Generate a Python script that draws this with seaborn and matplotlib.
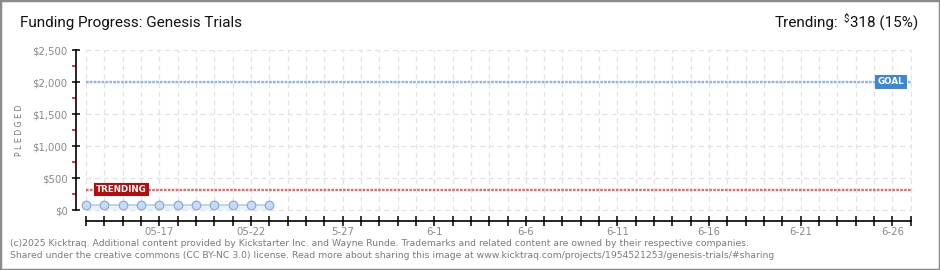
import matplotlib
matplotlib.use("Agg")
import matplotlib.pyplot as plt
import matplotlib.dates as mdates
from matplotlib.patches import Rectangle
import seaborn as sns
import pandas as pd
import numpy as np

# ---- data ----
pledge_dates = pd.date_range("2025-05-13", "2025-05-23", freq="D")
pledged = [78, 78, 78, 78, 78, 78, 78, 78, 78, 78, 78]
goal_value = 2000
trend_value = 318
trend_pct = 15
campaign_start = "2025-05-13"
campaign_end = "2025-06-27"
xtick_dates = ["2025-05-17", "2025-05-22", "2025-05-27", "2025-06-01", "2025-06-06",
               "2025-06-11", "2025-06-16", "2025-06-21", "2025-06-26"]
xtick_labels = ["05-17", "05-22", "5-27", "6-1", "6-6", "6-11", "6-16", "6-21", "6-26"]
ytick_values = [0, 500, 1000, 1500, 2000, 2500]
ytick_labels = ["$0", "$500", "$1,000", "$1,500", "$2,000", "$2,500"]
title = "Funding Progress: Genesis Trials"
footer1 = ("(c)2025 Kicktraq. Additional content provided by Kickstarter Inc. and Wayne Runde. "
           "Trademarks and related content are owned by their respective companies.")
footer2 = ("Shared under the creative commons (CC BY-NC 3.0) license. Read more about sharing this "
           "image at www.kicktraq.com/projects/1954521253/genesis-trials/#sharing")

df = pd.DataFrame({"date": pledge_dates, "pledged": pledged})

sns.set_style("white")
plt.rcParams["font.family"] = ["DejaVu Sans"]

W, H = 940, 270
fig = plt.figure(figsize=(W / 100, H / 100), dpi=100)

def fx(px):
    return px / W

def fy(py):
    return (H - py) / H

# axes placement
ax_left, ax_right, ax_top, ax_bottom = 76, 912, 50, 221
ax = fig.add_axes([fx(ax_left), fy(ax_bottom), fx(ax_right - ax_left), fy(ax_top) - fy(ax_bottom)])

start = pd.Timestamp(campaign_start)
end = pd.Timestamp(campaign_end)
px_per_day = (910.7 - 86) / 45.0
xl = start - pd.Timedelta(days=10 / px_per_day)
xr = end + pd.Timedelta(days=(ax_right - 910.7) / px_per_day)
ax.set_xlim(mdates.date2num(xl), mdates.date2num(xr))
px_per_dollar = 32 / 500
ax.set_ylim(-(ax_bottom - 210) / px_per_dollar, 2500)

# grid (dashed, light)
days = pd.date_range(start, end, freq="D")
for d in days:
    ax.plot([d, d], [0, 2500], color="#e2e2e2", lw=0.9, ls=(0, (4, 3)), zorder=1)
for v in ytick_values:
    ax.plot([start, end], [v, v], color="#e2e2e2", lw=0.9, ls=(0, (4, 3)), zorder=1)

# goal / trend lines
ax.plot([start, end], [goal_value, goal_value], color="#8fb4e0", lw=1.7, ls=(0, (1.1, 0.55)), zorder=3)
ax.plot([start, end], [trend_value, trend_value], color="#e06a6a", lw=1.7, ls=(0, (1.1, 0.55)), zorder=3)

# pledged series
ax.fill_between(df["date"], 0, df["pledged"], color="#e9f1fb", zorder=2, lw=0)
sns.lineplot(data=df, x="date", y="pledged", ax=ax, color="#b9d0ee", lw=1.2, zorder=4)
sns.scatterplot(data=df, x="date", y="pledged", ax=ax, s=38, color="#c4dcf7",
                edgecolor="#90acd4", linewidth=0.9, zorder=5)

# labels on lines
ax.text(start + pd.Timedelta(days=0.55), trend_value, "TRENDING", color="white", fontsize=6.3,
        fontweight="bold", va="center", ha="left", zorder=6,
        bbox=dict(boxstyle="square,pad=0.25", fc="#b50c0c", ec="none"))
ax.text(end - pd.Timedelta(days=0.35), goal_value, "GOAL", color="white", fontsize=6.3,
        fontweight="bold", va="center", ha="right", zorder=6,
        bbox=dict(boxstyle="square,pad=0.3", fc="#3d87d6", ec="none"))

# spines
for s in ["top", "right"]:
    ax.spines[s].set_visible(False)
ax.spines["left"].set_bounds(0, 2500)
ax.spines["bottom"].set_bounds(mdates.date2num(start), mdates.date2num(end))
ax.spines["left"].set_color("black")
ax.spines["bottom"].set_color("black")
ax.spines["left"].set_linewidth(1.2)
ax.spines["bottom"].set_linewidth(1.2)

ax.set_yticks(ytick_values)
ax.set_yticklabels(ytick_labels)
ax.set_yticks([250, 750, 1250, 1750, 2250], minor=True)
ax.tick_params(axis="y", which="both", left=True)
ax.tick_params(axis="y", which="major", direction="inout", length=6, width=1.1, color="black",
               labelsize=7.3, labelcolor="#8a8a8a", pad=3)
ax.tick_params(axis="y", which="minor", direction="out", length=3, width=1.1, color="#e00000")

ax.set_xticks([mdates.date2num(d) for d in days], minor=True)
ax.set_xticks([mdates.date2num(pd.Timestamp(d)) for d in xtick_dates])
ax.set_xticklabels(xtick_labels)
ax.tick_params(axis="x", which="both", bottom=True, direction="inout", length=7, width=1.1,
               color="black")
ax.tick_params(axis="x", which="major", labelsize=7.3, labelcolor="#8a8a8a", pad=1)
ax.set_xlabel("")
ax.set_ylabel("")

# texts
fig.text(fx(20), fy(23), title, fontsize=11, color="#111111", va="center", ha="left",
         family="Roboto")
fig.canvas.draw()
r = fig.canvas.get_renderer()
t_main = fig.text(fx(918), fy(23), "318 (15%)", fontsize=11, color="#111111", va="center",
                  ha="right", family="Roboto")
bb = t_main.get_window_extent(r)
t_dollar = fig.text(bb.x0 / W - fx(1), fy(19), "$", fontsize=7, color="#111111", va="center",
                    ha="right", family="Roboto")
bb2 = t_dollar.get_window_extent(r)
fig.text(bb2.x0 / W - fx(5), fy(23), "Trending:", fontsize=11, color="#111111", va="center",
         ha="right", family="Roboto")

fig.text(fx(20), fy(130), "P L E D G E D", rotation=90, fontsize=5.6, color="#777777",
         va="center", ha="center")

fig.text(fx(10), fy(243), footer1, fontsize=6.65, color="#7a7a7a", va="center", ha="left")
fig.text(fx(10), fy(256), footer2, fontsize=6.65, color="#7a7a7a", va="center", ha="left")

# border
fig.patches.append(Rectangle((0, 0), 1, 1, transform=fig.transFigure, fill=False,
                             ec="#8c8c8c", lw=2.5, zorder=10))

fig.savefig("out.png", dpi=100)
